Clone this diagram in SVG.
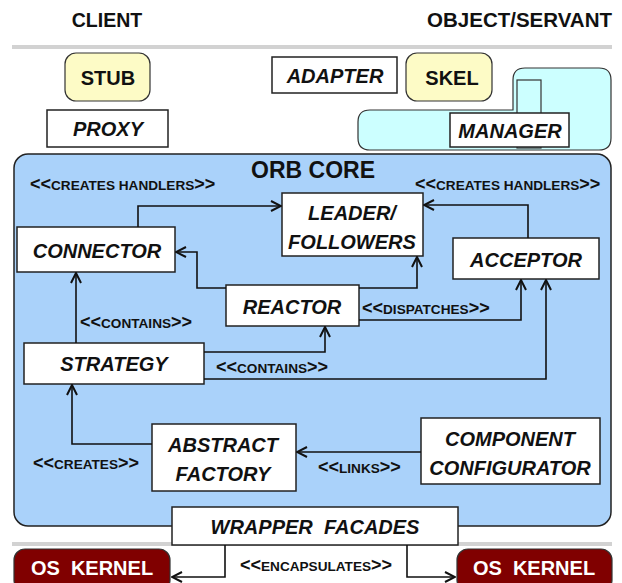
<svg xmlns="http://www.w3.org/2000/svg" width="622" height="583" viewBox="0 0 622 583">
<defs>
<style>
text{font-family:"Liberation Sans",Arial,sans-serif;font-weight:bold;fill:#111}
.hd{font-size:19.5px;}
.nt{font-size:20px;font-style:italic;text-anchor:middle}
.pl{font-size:20px;text-anchor:middle}
.wt{font-size:20px;text-anchor:middle;fill:#fff}
.lb{font-size:13.6px}
.lb .g{font-size:18px}
.box{fill:#fff;stroke:#222;stroke-width:1.5}
.yel{fill:#fdfbc6;stroke:#333;stroke-width:1.2}
.sep{stroke:#d2d2d2;stroke-width:4}
.con{fill:none;stroke:#111;stroke-width:1.6}
</style>
<marker id="ah" viewBox="0 0 12 12" refX="11" refY="6" markerWidth="12" markerHeight="12" markerUnits="userSpaceOnUse" orient="auto">
<path d="M1,1 L11,6 L1,11" fill="none" stroke="#111" stroke-width="2"/>
</marker>
</defs>
<rect width="622" height="583" fill="#fff"/>
<text class="hd" x="107" y="27" text-anchor="middle">CLIENT</text>
<text class="hd" x="612" y="27" text-anchor="end" style="font-size:20.5px">OBJECT/SERVANT</text>
<line class="sep" x1="12" y1="47" x2="612" y2="47"/>
<line class="sep" x1="12" y1="544" x2="612" y2="544"/>

<g id="stub"><rect class="yel" x="65" y="53" width="85" height="48" rx="11"/><text class="pl" x="108" y="85">STUB</text></g>
<g id="proxy"><rect class="box" x="47" y="110" width="121" height="37"/><text class="nt" x="108" y="136">PROXY</text></g>
<g id="adapter"><rect class="box" x="272" y="57" width="125" height="36"/><text class="nt" x="335" y="83">ADAPTER</text></g>
<g id="skel"><rect class="yel" x="406" y="53" width="86" height="48" rx="11"/><text class="pl" x="452" y="85">SKEL</text></g>
<g id="servant-area">
<path d="M370,110 L513,110 L513,80 Q513,68 525,68 L599,68 Q611,68 611,80 L611,138 Q611,150 599,150 L370,150 Q358,150 358,138 L358,122 Q358,110 370,110 Z" fill="#ccffff" stroke="#333" stroke-width="1.2"/>
<rect x="517" y="80" width="24" height="68" fill="#ccffff" stroke="#333" stroke-width="1.2"/>
</g>
<g id="manager"><rect class="box" x="450" y="113" width="119" height="34"/><text class="nt" x="510" y="138">MANAGER</text></g>

<g id="orb-core"><rect x="14" y="154" width="597" height="372" rx="14" fill="#aad2fa" stroke="#222" stroke-width="1.5"/>
<text x="313" y="178" text-anchor="middle" style="font-size:23px">ORB CORE</text></g>

<g id="leader"><rect class="box" x="282" y="193" width="141" height="63"/><text class="nt" x="352" y="220">LEADER/</text><text class="nt" x="352" y="249">FOLLOWERS</text></g>
<g id="connector"><rect class="box" x="17" y="227" width="158" height="45"/><text class="nt" x="97" y="258">CONNECTOR</text></g>
<g id="acceptor"><rect class="box" x="453" y="238" width="146" height="41"/><text class="nt" x="526" y="267">ACCEPTOR</text></g>
<g id="reactor"><rect class="box" x="226" y="285" width="133" height="41"/><text class="nt" x="292" y="314">REACTOR</text></g>
<g id="strategy"><rect class="box" x="24" y="343" width="180" height="41"/><text class="nt" x="114" y="371">STRATEGY</text></g>
<g id="abstract-factory"><rect class="box" x="152" y="424" width="144" height="67"/><text class="nt" x="223" y="452">ABSTRACT</text><text class="nt" x="223" y="481">FACTORY</text></g>
<g id="component-configurator"><rect class="box" x="421" y="418" width="179" height="66"/><text class="nt" x="510" y="446">COMPONENT</text><text class="nt" x="510" y="475">CONFIGURATOR</text></g>
<g id="wrapper-facades"><rect class="box" x="172" y="507" width="286" height="38"/><text class="nt" x="315" y="534" xml:space="preserve">WRAPPER  FACADES</text></g>
<g id="os-kernel-left"><rect x="14" y="549" width="156" height="42" rx="11" fill="#800000" stroke="#333" stroke-width="1.2"/><text class="wt" x="92" y="575" xml:space="preserve">OS  KERNEL</text></g>
<g id="os-kernel-right"><rect x="457" y="549" width="155" height="42" rx="11" fill="#800000" stroke="#333" stroke-width="1.2"/><text class="wt" x="534" y="575" xml:space="preserve">OS  KERNEL</text></g>

<g id="connectors">
<path class="con" marker-end="url(#ah)" d="M138,227 V206 H281"/>
<path class="con" marker-end="url(#ah)" d="M528,238 V205 H424"/>
<path class="con" marker-end="url(#ah)" d="M226,288 H197 V252 H176"/>
<path class="con" marker-end="url(#ah)" d="M359,288 H417 V257"/>
<path class="con" marker-end="url(#ah)" d="M359,320 H521 V280"/>
<path class="con" marker-end="url(#ah)" d="M76,343 V273"/>
<path class="con" marker-end="url(#ah)" d="M204,352 H325 V327"/>
<path class="con" marker-end="url(#ah)" d="M204,379 H546 V280"/>
<path class="con" marker-end="url(#ah)" d="M152,444 H72 V385"/>
<path class="con" marker-end="url(#ah)" d="M421,452 H297"/>
<path class="con" marker-end="url(#ah)" d="M225,545 V577 H172"/>
<path class="con" marker-end="url(#ah)" d="M407,545 V577 H455"/>
</g>
<g id="labels">
<text class="lb" x="30" y="190"><tspan class="g">&lt;&lt;</tspan>CREATES HANDLERS<tspan class="g">&gt;&gt;</tspan></text>
<text class="lb" x="415" y="190"><tspan class="g">&lt;&lt;</tspan>CREATES HANDLERS<tspan class="g">&gt;&gt;</tspan></text>
<text class="lb" x="362" y="314"><tspan class="g">&lt;&lt;</tspan>DISPATCHES<tspan class="g">&gt;&gt;</tspan></text>
<text class="lb" x="80" y="328"><tspan class="g">&lt;&lt;</tspan>CONTAINS<tspan class="g">&gt;&gt;</tspan></text>
<text class="lb" x="216" y="373"><tspan class="g">&lt;&lt;</tspan>CONTAINS<tspan class="g">&gt;&gt;</tspan></text>
<text class="lb" x="33" y="469"><tspan class="g">&lt;&lt;</tspan>CREATES<tspan class="g">&gt;&gt;</tspan></text>
<text class="lb" x="318" y="473"><tspan class="g">&lt;&lt;</tspan>LINKS<tspan class="g">&gt;&gt;</tspan></text>
<text class="lb" x="240" y="571"><tspan class="g">&lt;&lt;</tspan>ENCAPSULATES<tspan class="g">&gt;&gt;</tspan></text>
</g>
</svg>
